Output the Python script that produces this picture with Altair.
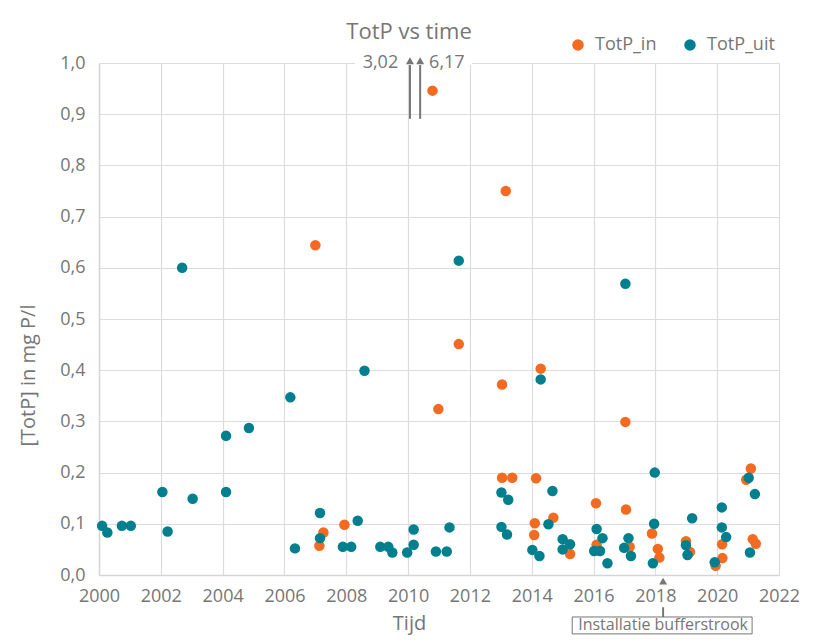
import altair as alt
import pandas as pd

# ---- data ----
series_names = ["TotP_in", "TotP_uit"]
series_colors = ["#F26B21", "#00808E"]

in_years = [2007.00, 2007.13, 2007.26, 2007.94, 2010.79, 2010.98, 2011.64, 2013.04,
            2013.16, 2013.04, 2013.37, 2014.10, 2014.08, 2014.14, 2014.29, 2014.70,
            2015.24, 2016.08, 2016.10, 2017.03, 2017.05, 2017.17, 2017.89, 2018.08,
            2018.13, 2018.99, 2019.12, 2019.95, 2020.17, 2020.16, 2020.94, 2021.09,
            2021.15, 2021.25]
in_values = [0.644, 0.057, 0.083, 0.098, 0.946, 0.324, 0.451, 0.372,
             0.750, 0.190, 0.190, 0.101, 0.078, 0.189, 0.403, 0.112,
             0.041, 0.140, 0.059, 0.299, 0.128, 0.055, 0.081, 0.051,
             0.034, 0.066, 0.045, 0.018, 0.033, 0.060, 0.186, 0.208,
             0.070, 0.061]

uit_years = [2000.10, 2000.27, 2000.74, 2001.03, 2002.05, 2002.22, 2002.69, 2003.03,
             2004.11, 2004.11, 2004.85, 2006.19, 2006.34, 2007.15, 2007.15, 2007.89,
             2008.16, 2008.37, 2008.59, 2009.10, 2009.36, 2009.49, 2009.97, 2010.18,
             2010.18, 2010.90, 2011.25, 2011.34, 2011.64, 2013.02, 2013.24, 2013.02,
             2013.20, 2014.02, 2014.25, 2014.29, 2014.54, 2014.67, 2015.00, 2015.24,
             2015.00, 2016.10, 2016.29, 2016.02, 2016.21, 2016.45, 2016.99, 2017.03,
             2017.13, 2017.21, 2017.92, 2017.96, 2017.98, 2018.99, 2019.04, 2019.19,
             2019.92, 2020.15, 2020.15, 2020.29, 2021.02, 2021.06, 2021.22]
uit_values = [0.096, 0.083, 0.096, 0.096, 0.162, 0.085, 0.600, 0.149,
              0.272, 0.162, 0.287, 0.347, 0.052, 0.121, 0.072, 0.055,
              0.055, 0.106, 0.399, 0.055, 0.055, 0.044, 0.044, 0.059,
              0.089, 0.046, 0.046, 0.093, 0.614, 0.161, 0.147, 0.094,
              0.079, 0.049, 0.037, 0.382, 0.099, 0.164, 0.070, 0.060,
              0.050, 0.090, 0.072, 0.047, 0.047, 0.023, 0.053, 0.569,
              0.072, 0.037, 0.023, 0.100, 0.200, 0.058, 0.039, 0.111,
              0.025, 0.132, 0.093, 0.074, 0.190, 0.044, 0.158]

# values beyond the axis, shown as arrows with labels
offscale_years = [2010.06, 2010.39]
offscale_labels = ["3,02", "6,17"]

x_ticks = list(range(2000, 2023, 2))
y_ticks = [0.0, 0.1, 0.2, 0.3, 0.4, 0.5, 0.6, 0.7, 0.8, 0.9, 1.0]

note_year = 2018.25
note_text = "Installatie bufferstrook"

GRAY = "#767676"
FONT = "Open Sans"

# ---- tables ----
points = pd.DataFrame(
    {"Tijd": in_years + uit_years,
     "TotP": in_values + uit_values,
     "Reeks": [series_names[0]] * len(in_years) + [series_names[1]] * len(uit_years)}
)
points["order"] = range(len(points))

off = pd.DataFrame({"Tijd": offscale_years, "label": offscale_labels,
                    "y0": [0.891] * 2, "y1": [0.996] * 2, "tip": [1.0045] * 2,
                    "lx": [2009.68, 2010.68], "ly": [1.0] * 2})
gap = pd.DataFrame({"a": [2008.28], "b": [2012.07], "y": [1.0]})
note = pd.DataFrame({"Tijd": [note_year], "tip": [-0.012], "l0": [-0.063], "l1": [-0.082],
                     "bx0": [2015.31], "bx1": [2021.13], "by0": [-0.082], "by1": [-0.115],
                     "ty": [-0.0985], "text": [note_text]})

xs = alt.Scale(domain=[2000, 2022], nice=False, zero=False)
ys = alt.Scale(domain=[0, 1], nice=False)

x_axis = alt.Axis(values=x_ticks, format="d", title="Tijd", grid=True,
                  tickSize=0, labelPadding=12, labelFlush=False, labelOverlap=False,
                  titleX=310, titleY=54, titleBaseline="alphabetic")
y_axis = alt.Axis(values=y_ticks, title="[TotP] in mg P/l", grid=True,
                  labelExpr="replace(format(datum.value, '.1f'), '.', ',')",
                  tickSize=0, labelPadding=14, labelFlush=False, labelOverlap=False,
                  titleX=-71, titleY=312,
                  titleBaseline="middle", titleAngle=-90, titleAlign="center")

scatter = alt.Chart(points).mark_circle(size=110, opacity=1).encode(
    x=alt.X("Tijd:Q", scale=xs, axis=x_axis),
    y=alt.Y("TotP:Q", scale=ys, axis=y_axis),
    color=alt.Color("Reeks:N",
                    scale=alt.Scale(domain=series_names, range=series_colors),
                    legend=alt.Legend(title=None, orient="none", direction="horizontal",
                                      legendX=470, legendY=-27, symbolType="circle",
                                      symbolSize=133, labelFontSize=18, labelFont=FONT,
                                      labelColor=GRAY, labelOffset=8, columnPadding=24,
                                      padding=0)),
    order=alt.Order("order:Q"),
)

gap_rule = alt.Chart(gap).mark_rule(color="white", strokeWidth=4).encode(
    x="a:Q", x2="b:Q", y="y:Q")

arrow_lines = alt.Chart(off).mark_rule(color=GRAY, strokeWidth=2).encode(
    x="Tijd:Q", y="y0:Q", y2="y1:Q")
arrow_heads = alt.Chart(off).mark_point(shape="triangle-up", filled=True, size=64,
                                        color=GRAY, opacity=1).encode(
    x="Tijd:Q", y="tip:Q")
lab_left = alt.Chart(off).transform_filter(alt.datum.label == offscale_labels[0]).mark_text(
    align="right", baseline="middle", fontSize=18, font=FONT, color=GRAY).encode(
    x="lx:Q", y="ly:Q", text="label:N")
lab_right = alt.Chart(off).transform_filter(alt.datum.label == offscale_labels[1]).mark_text(
    align="left", baseline="middle", fontSize=18, font=FONT, color=GRAY).encode(
    x="lx:Q", y="ly:Q", text="label:N")

note_head = alt.Chart(note).mark_point(shape="triangle-up", filled=True, size=64,
                                       color=GRAY, opacity=1).encode(x="Tijd:Q", y="tip:Q")
note_line = alt.Chart(note).mark_rule(color=GRAY, strokeWidth=2).encode(
    x="Tijd:Q", y="l0:Q", y2="l1:Q")
note_box = alt.Chart(note).mark_rect(fill="white", stroke=GRAY, strokeWidth=1).encode(
    x="bx0:Q", x2="bx1:Q", y="by0:Q", y2="by1:Q")
note_txt = alt.Chart(note).mark_text(fontSize=16, font=FONT, color=GRAY,
                                     baseline="middle", align="center").encode(
    x="Tijd:Q", y="ty:Q", text="text:N")

chart = alt.layer(
    gap_rule, scatter, arrow_lines, arrow_heads, lab_left, lab_right,
    note_head, note_line, note_box, note_txt
).properties(
    width=680, height=512,
    title=alt.TitleParams("TotP vs time", fontSize=22, font=FONT, color=GRAY,
                          fontWeight="normal", anchor="middle", dx=-30, offset=-8),
    padding={"left": 91, "top": 55, "right": 20, "bottom": 60},
    autosize=alt.AutoSizeParams(type="none"),
).configure_view(stroke=None).configure_axis(
    gridColor="#dcdcdc", gridWidth=1.2, domainColor="#d5d5d5", domainWidth=1.5,
    labelFont=FONT, labelFontSize=18, labelColor=GRAY,
    titleFont=FONT, titleFontSize=20, titleColor=GRAY, titleFontWeight="normal",
)

chart.save("out.html", embed_options={"renderer": "svg", "actions": False})
